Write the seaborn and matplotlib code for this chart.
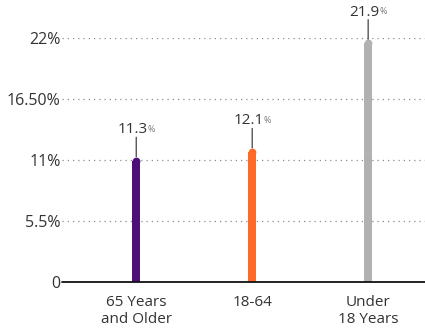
import matplotlib
matplotlib.use("Agg")
import matplotlib.pyplot as plt
import seaborn as sns
import pandas as pd

# Poverty rate by age group
categories = ["65 Years\nand Older", "18-64", "Under\n18 Years"]
rates = [11.3, 12.1, 21.9]
colors = ["#4d0f78", "#ff6a2a", "#b0b2b0"]
tick_values = [0, 5.5, 11, 16.5, 22]
tick_labels = ["0", "5.5%", "11%", "16.50%", "22%"]

df = pd.DataFrame({"group": categories, "rate": rates})

sns.set_theme(style="white")
plt.rcParams["font.family"] = ["Open Sans", "DejaVu Sans"]

fig = plt.figure(figsize=(4.25, 3.28), dpi=100)
ax_pos = [0.146, 0.140, 0.854, 0.744]
ax = fig.add_axes(ax_pos)

xlim = (-0.64, 2.49)
ylim = (0, 22)

# pixel -> data conversions for the rounded tops
px_per_unit_y = (ax_pos[3] * 328) / (ylim[1] - ylim[0])
px_per_unit_x = (ax_pos[2] * 425) / (xlim[1] - xlim[0])
bar_px = 8
cap_r = (bar_px / 2) / px_per_unit_y
bar_width = bar_px / px_per_unit_x

# stems, shortened by the cap radius so the round cap ends at the value
df["stem"] = df["rate"] - cap_r
sns.barplot(data=df, x="group", y="stem", hue="group", palette=colors,
            width=bar_width, legend=False, ax=ax, saturation=1,
            order=categories, hue_order=categories, zorder=3,
            linewidth=0)
ax.set_xlim(*xlim)
ax.set_ylim(*ylim)

for patch, v, c in zip(ax.patches, rates, colors):
    xc = patch.get_x() + patch.get_width() / 2
    ax.plot([xc], [v - cap_r], marker="o", markersize=bar_px * 0.7,
            color=c, markeredgewidth=0, zorder=3, clip_on=False)
    # leader line and value label
    ax.annotate("", xy=(xc, v), xytext=(0, 14), textcoords="offset points",
                xycoords="data",
                arrowprops=dict(arrowstyle="-", color="#555555", lw=1.0,
                                shrinkA=0, shrinkB=0), annotation_clip=False)
    num = ax.annotate(f"{v:.1f}", xy=(xc, v), xytext=(-2.5, 14),
                      textcoords="offset points", ha="center", va="bottom",
                      fontsize=11, color="#333333", annotation_clip=False)
    ax.annotate("%", xy=(1, 0), xycoords=num, xytext=(0, 2.5),
                textcoords="offset points", ha="left", va="bottom",
                fontsize=6.5, color="#777777", annotation_clip=False)

# dotted guides and solid baseline
for t in tick_values[1:]:
    ax.axhline(t, color="#8c8c8c", lw=0.9, ls=(0, (1, 3.2)), zorder=1)
ax.axhline(0, color="#111111", lw=1.3, zorder=4, clip_on=False)

ax.set_yticks(tick_values)
ax.set_yticklabels(tick_labels)
ax.tick_params(axis="y", length=0, pad=1, labelsize=11.5, labelcolor="#333333")
ax.tick_params(axis="x", length=0, pad=9, labelsize=11, labelcolor="#333333")
ax.set_xlabel("")
ax.set_ylabel("")
sns.despine(ax=ax, left=True, bottom=True, top=True, right=True)

fig.savefig("out.png", dpi=100)
